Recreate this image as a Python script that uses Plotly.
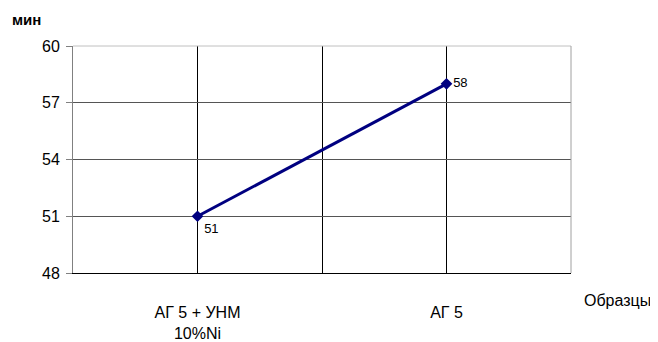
import plotly.graph_objects as go

categories = ["АГ 5 + УНМ<br>10%Ni", "АГ 5"]
values = [51, 58]
y_ticks = [48, 51, 54, 57, 60]

x_pos = list(range(len(categories)))

fig = go.Figure()
fig.add_trace(go.Scatter(
    x=x_pos, y=values, mode="lines+markers+text",
    line=dict(color="#000080", width=3),
    marker=dict(symbol="diamond", size=9, color="#000080"),
    text=[str(v) for v in values],
    textposition=["bottom right", "middle right"],
    textfont=dict(family="Liberation Sans, Arial", size=13, color="black"),
    cliponaxis=False, showlegend=False,
))

# page body has an 8px default margin, so the figure is sized to compensate
fig.update_layout(
    width=650, height=334,
    margin=dict(l=65, r=87, t=38, b=69),
    paper_bgcolor="white", plot_bgcolor="white",
    font=dict(family="Liberation Sans, Arial", size=16, color="black"),
    xaxis=dict(
        range=[-0.5, 1.5], tickvals=x_pos, ticktext=categories,
        showgrid=True, gridcolor="black", gridwidth=1,
        minor=dict(tickvals=[0.5], showgrid=True, gridcolor="black", gridwidth=1),
        showline=True, linecolor="black", linewidth=1, mirror=False,
        ticks="", ticklabelstandoff=25, zeroline=False, automargin=False,
    ),
    yaxis=dict(
        range=[48, 60], tickvals=y_ticks, showgrid=True, gridcolor="#555555",
        gridwidth=1, showline=True, linecolor="#808080", linewidth=1,
        ticks="outside", ticklen=6, tickcolor="#808080", zeroline=False,
        ticklabelstandoff=3, automargin=False,
    ),
    shapes=[
        dict(type="line", xref="paper", yref="paper", x0=0, x1=1, y0=1, y1=1,
             line=dict(color="#c0c0c0", width=1)),
        dict(type="line", xref="paper", yref="paper", x0=1, x1=1, y0=0, y1=1,
             line=dict(color="#a0a0a0", width=1)),
    ],
    annotations=[
        dict(text="<b>мин</b>", xref="paper", yref="paper", x=-0.127, y=1.115,
             xanchor="left", yanchor="middle", showarrow=False,
             font=dict(size=15)),
        dict(text="Образцы", xref="paper", yref="paper", x=1.022, y=-0.119,
             xanchor="left", yanchor="middle", showarrow=False,
             font=dict(size=16)),
    ],
)

fig.write_html("out.html")
